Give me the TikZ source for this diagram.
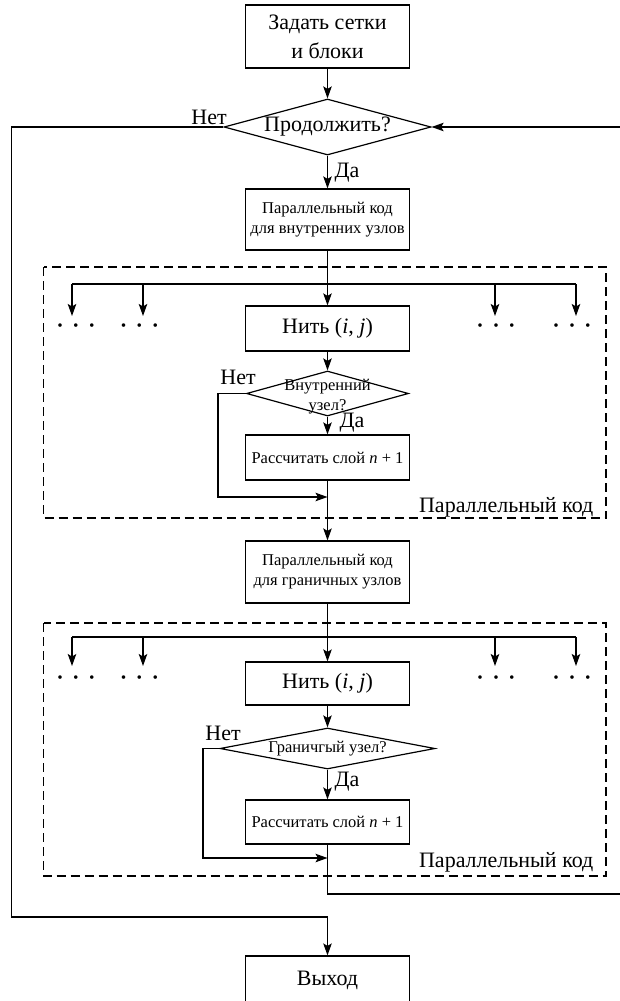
\documentclass[tikz,border=0pt]{standalone}
\usepackage{fontspec}
\setmainfont{Liberation Serif}
\usetikzlibrary{shapes.geometric,arrows.meta}
\begin{document}
\begin{tikzpicture}[x=1pt,y=-1pt,
  line width=1.2pt,
  arr/.style={-{Stealth[length=12pt,width=8.5pt,inset=2.5pt]}},
  box/.style={draw, rectangle, minimum width=164pt, inner sep=0pt, align=center},
  big/.style={font=\fontsize{22}{29}\selectfont},
  small/.style={font=\fontsize{16.5}{20}\selectfont},
  dia/.style={draw, diamond, inner sep=0pt},
  txt/.style={inner sep=0pt, align=center},
  frame/.style={draw, dash pattern=on 9pt off 5pt, line width=1.1pt},
  dotsn/.style={inner sep=0pt, font=\fontsize{30}{32}\selectfont}
]
\useasboundingbox (0,0) rectangle (619,1001);

% main column
\node[box, big, minimum height=63pt] (start) at (327.5,36.5) {Задать сетки\\и блоки};
\node[dia, minimum width=207pt, minimum height=56pt] (cont) at (327.5,127) {};
\node[txt, big] (conttxt) at (327.5,127) {Продолжить?};
\node[box, small, minimum height=61pt] (b1) at (327.5,219.5) {Параллельный код\\для внутренних узлов};

% first parallel block
\draw[frame] (43.5,267) rectangle (606,518);
\node[box, big, minimum height=45pt] (n1) at (327.5,328.5) {Нить (\textit{i}, \textit{j})};
\node[dia, minimum width=162pt, minimum height=45pt] (d1) at (327.5,393.5) {};
\node[txt, small] (d1txt) at (327.5,397) {Внутренний\\узел?};
\node[box, small, minimum height=45pt] (r1) at (327.5,457.5) {Рассчитать слой \textit{n} + 1};
\node[txt, big, anchor=east] (pk1) at (594,507) {Параллельный код};

\node[box, small, minimum height=62pt] (b2) at (327.5,572) {Параллельный код\\для граничных узлов};

% second parallel block
\draw[frame] (43.5,623) rectangle (606,876);
\node[box, big, minimum height=43pt] (n2) at (327.5,683.5) {Нить (\textit{i}, \textit{j})};
\node[dia, minimum width=215pt, minimum height=41pt] (d2) at (327.5,748.5) {};
\node[txt, small] (d2txt) at (327.5,749) {Граничгый узел?};
\node[box, small, minimum height=44pt] (r2) at (327.5,822) {Рассчитать слой \textit{n} + 1};
\node[txt, big, anchor=east] (pk2) at (594,862) {Параллельный код};

\node[box, big, minimum height=48pt] (exit) at (327.5,980) {\raisebox{3pt}{Выход}};

% labels
\node[txt, big] (no0) at (209,117) {Нет};
\node[txt, big] (yes0) at (347,173) {Да};
\node[txt, big] (no1) at (238,377) {Нет};
\node[txt, big] (yes1) at (352,423) {Да};
\node[txt, big] (no2) at (223,733) {Нет};
\node[txt, big] (yes2) at (347,782) {Да};

% dots
\foreach \nm/\xx/\yy in {a/76/330,b/139.5/330,c/496/330,d/572/330,e/76/682,f/139.5/682,g/496/682,h/572/682}
  \node[dotsn] (dots\nm) at (\xx,\yy) {·\hspace{5.8pt}·\hspace{5.8pt}·};

% coordinates
\coordinate (f1a) at (72,284);
\coordinate (f1b) at (143,284);
\coordinate (f1d) at (495,284);
\coordinate (f1e) at (576,284);
\coordinate (t1a) at (72,316);
\coordinate (t1b) at (143,316);
\coordinate (t1d) at (495,316);
\coordinate (t1e) at (576,316);
\coordinate (f2a) at (72,637);
\coordinate (f2b) at (143,637);
\coordinate (f2d) at (495,637);
\coordinate (f2e) at (576,637);
\coordinate (t2a) at (72,666);
\coordinate (t2b) at (143,666);
\coordinate (t2d) at (495,666);
\coordinate (t2e) at (576,666);
\coordinate (j1l) at (218,497);
\coordinate (j1) at (327.5,497);
\coordinate (j2l) at (203,858);
\coordinate (j2) at (327.5,858);
\coordinate (rb1) at (327.5,894);
\coordinate (rb2) at (621,894);
\coordinate (lb) at (11.8,917);

% connectors
\draw[arr] (start) -- (cont);
\draw[arr] (cont.south) -- (b1.north);
\draw[arr] (cont.west) -| (lb) -| (exit.north);
\draw[arr] (b1) -- (n1);
\draw (f1a) -- (f1e);
\foreach \k in {a,b,d,e} \draw[arr] (f1\k) -- (t1\k);
\draw[arr] (n1) -- (d1);
\draw[arr] (d1) -- (r1);
\draw[arr] (d1.west) -| (j1l) -- (j1);
\draw[arr] (r1) -- (b2);
\draw (f2a) -- (f2e);
\foreach \k in {a,b,d,e} \draw[arr] (f2\k) -- (t2\k);
\draw[arr] (b2) -- (n2);
\draw[arr] (n2) -- (d2);
\draw[arr] (d2) -- (r2);
\draw[arr] (d2.west) -| (j2l) -- (j2);
\draw[arr] (r2.south) -- (rb1) -- (rb2) |- (cont.east);
\end{tikzpicture}
\end{document}
